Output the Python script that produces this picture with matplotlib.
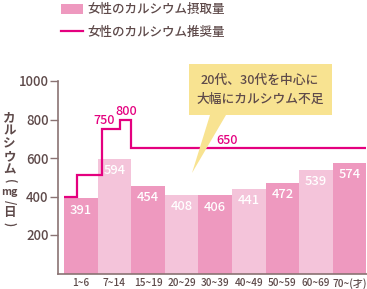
import matplotlib
matplotlib.use("Agg")
import matplotlib.pyplot as plt
from matplotlib.patches import Patch, Polygon
from matplotlib.lines import Line2D

plt.rcParams['font.family'] = ['Noto Sans CJK JP', 'DejaVu Sans']

# ---- data ----
categories = ["1~6", "7~14", "15~19", "20~29", "30~39", "40~49", "50~59", "60~69", "70~(才)"]
intake = [391, 594, 454, 408, 406, 441, 472, 539, 574]
rec_edges = [-0.5, -0.12, 0.64, 1.18, 1.5, 8.5]
rec_values = [400, 510, 750, 800, 650]
rec_labels = [("750", 0.69, 750), ("800", 1.34, 800), ("650", 4.35, 650)]
yticks = [200, 400, 600, 800, 1000]
legend_labels = ["女性のカルシウム摂取量", "女性のカルシウム推奨量"]
callout_text = "20代、30代を中心に\n大幅にカルシウム不足"
ylabel_parts = ["カ", "ル", "シ", "ウ", "ム", "(", "mg", "/", "日", ")"]

TXT = "#5E4A4A"
SPINE = "#8A7373"
DARK = "#EE99BF"
LIGHT = "#F4C4DA"
MAG = "#E4007F"
YEL = "#F8E391"

W, H = 367, 289
fig = plt.figure(figsize=(W / 100, H / 100), dpi=100)
ax = fig.add_axes([58 / W, (H - 273.5) / H, (367 - 58) / W, (273.5 - 81) / H])

x = list(range(len(categories)))
colors = [DARK if i % 2 == 0 else LIGHT for i in x]
ax.bar(x, intake, width=1.0, color=colors, edgecolor='none', zorder=2)

ax.stairs(rec_values, rec_edges, baseline=None, color=MAG, linewidth=1.6, zorder=3)

for i, v in zip(x, intake):
    ax.annotate(str(v), (i, v), xytext=(0, -8.5), textcoords='offset points',
                ha='center', va='center', color='white', fontsize=9.3, fontweight='medium', zorder=4)
for lab, lx, ly in rec_labels:
    ax.annotate(lab, (lx, ly), xytext=(0, 6), textcoords='offset points',
                ha='center', va='center', color=MAG, fontsize=9, fontweight='medium', zorder=4)

ax.set_xlim(-0.68, 8.52)
ax.set_ylim(0, 1000)
ax.set_yticks(yticks)
ax.set_yticklabels([str(t) for t in yticks], fontsize=9.5, color=TXT, fontweight='medium')
ax.set_xticks(x)
ax.set_xticklabels(categories, fontsize=7.2, color=TXT, fontweight='medium')
ax.tick_params(axis='y', length=5.5, width=1, color=SPINE, pad=1.2)
ax.tick_params(axis='x', length=0, pad=3)
for s in ['top', 'right']:
    ax.spines[s].set_visible(False)
for s in ['left', 'bottom']:
    ax.spines[s].set_color(SPINE)
    ax.spines[s].set_linewidth(1.2)
ax.spines['bottom'].set_zorder(5)

# vertical y-axis label, one glyph per row (brackets and slash turned as in vertical writing)
ycent = [117.5, 131, 144, 157, 170, 181.5, 192, 202, 212.5, 224]
for part, py in zip(ylabel_parts, ycent):
    rot = -90 if part in "(/)" else 0
    fs = 7.5 if part == "mg" else (8 if rot else 9)
    fig.text(9.5 / W, (H - py) / H, part, ha='center', va='center', fontsize=fs,
             color=TXT, fontweight='bold', rotation=rot, rotation_mode='anchor')

# callout (figure pixel coords -> fraction)
def fp(px, py):
    return (px / W, (H - py) / H)

box = [fp(189, 64), fp(332, 64), fp(332, 115), fp(226, 115), fp(192, 173), fp(210, 115), fp(189, 115)]
fig.patches.append(Polygon(box, closed=True, transform=fig.transFigure, facecolor=YEL,
                           edgecolor='none', zorder=10))
fig.text(260 / W, (H - 90) / H, callout_text, ha='center', va='center', fontsize=9.2,
         color=TXT, fontweight='medium', linespacing=1.55, zorder=11)

handles = [Patch(facecolor=DARK, edgecolor='none'), Line2D([0], [0], color=MAG, linewidth=1.6)]
fig.legend(handles, legend_labels, loc='upper left', bbox_to_anchor=(50 / W, 1 + 8 / H),
           frameon=False, handlelength=1.75, handleheight=0.8, handletextpad=0.3,
           labelspacing=0.75, labelcolor=TXT, prop={'weight': 'medium', 'size': 9})

fig.savefig("out.png", dpi=100)
